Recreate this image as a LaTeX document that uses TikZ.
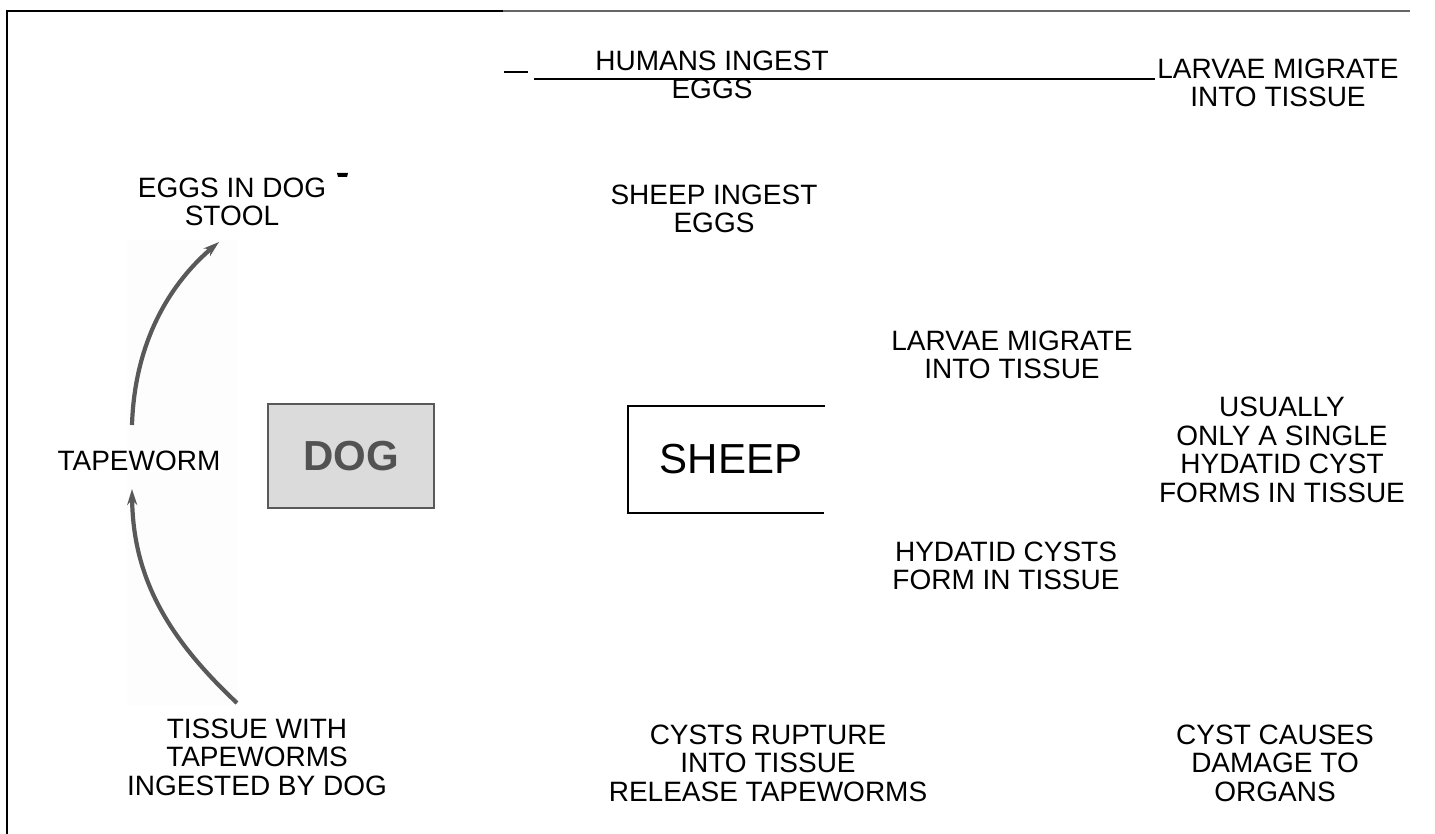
\documentclass[tikz,border=0pt]{standalone}
\usepackage{fontspec}
\setmainfont{Liberation Sans}
\usetikzlibrary{arrows.meta}
\begin{document}
\begin{tikzpicture}[x=1pt,y=-1pt,
  lbl/.style={align=center,inner sep=0pt,font=\fontsize{28}{28.5}\selectfont},
  cyc/.style={draw=black!65,line width=4.2pt,-{Stealth[length=16pt,width=10pt]}},
  frame/.style={line width=2.5pt,black}]
\useasboundingbox (0,0) rectangle (1435,834);
% faint background behind the cycle arrows
\fill[black!0.8] (127,240) rectangle (238,705);
% frame
\draw[frame] (7,834) -- (7,11) -- (503,11);
\draw[line width=1.5pt,black!60] (503,11) -- (1410,11);
% top lines
\coordinate (d1) at (504,72); \coordinate (d2) at (528,72);
\draw[line width=1.5pt] (d1) -- (d2);
\coordinate (l1) at (534,79); \coordinate (l2) at (1155,79);
\draw[line width=1.3pt] (l1) -- (l2);
% texts
\node[lbl] (humans) at (712,75) {HUMANS INGEST\\EGGS};
\node[lbl] (larvtop) at (1278,83) {LARVAE MIGRATE\\INTO TISSUE};
\node[lbl] (eggs) at (232,202) {EGGS IN DOG\\STOOL};
\fill (337,173) -- (348,173) -- (347,177) -- (338,177) -- cycle;
\node[lbl] (sheepeggs) at (714,209) {SHEEP INGEST\\EGGS};
\node[lbl] (larvmid) at (1012,355) {LARVAE MIGRATE\\INTO TISSUE};
\node[lbl,fill=white,inner sep=1pt] (tape) at (139,461) {TAPEWORM};
\node[lbl] (usually) at (1282,450) {USUALLY\\ONLY A SINGLE\\HYDATID CYST\\FORMS IN TISSUE};
\node[lbl] (hydatid) at (1006,566) {HYDATID CYSTS\\FORM IN TISSUE};
\node[lbl] (tissue) at (257,757) {TISSUE WITH\\TAPEWORMS\\INGESTED BY DOG};
\node[lbl] (rupture) at (768,763) {CYSTS RUPTURE\\INTO TISSUE\\RELEASE TAPEWORMS};
\node[lbl] (damage) at (1275,763) {CYST CAUSES\\DAMAGE TO\\ORGANS};
% DOG box
\node[draw=black!65,line width=1.5pt,fill=black!14,minimum width=166pt,minimum height=104pt,inner sep=0pt,
  font=\fontsize{42}{42}\selectfont\bfseries,text=black!68] (dog) at (351,456) {DOG};
% SHEEP box (open right)
\coordinate (s1) at (825,406); \coordinate (s2) at (628,406);
\coordinate (s3) at (628,513); \coordinate (s4) at (824,513);
\draw[line width=1.2pt] (s1) -- (s2) -- (s3) -- (s4);
\node[font=\fontsize{42}{42}\selectfont,inner sep=0pt] (sheep) at (731,459) {SHEEP};
% cycle arrows
\coordinate (a1) at (132,425); \coordinate (a2) at (219,242);
\draw[cyc] (a1) .. controls (135,330) and (180,275) .. (a2);
\coordinate (b1) at (237,703); \coordinate (b2) at (132,489);
\draw[cyc] (b1) .. controls (170,640) and (133,580) .. (b2);
\end{tikzpicture}
\end{document}
